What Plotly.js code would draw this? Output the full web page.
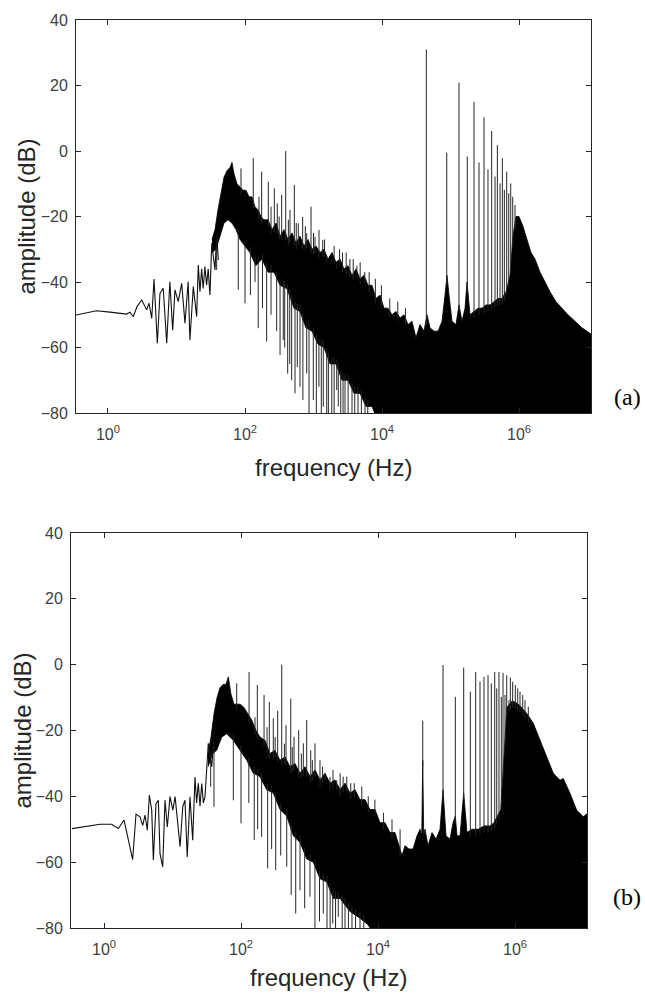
<!DOCTYPE html>
<html><head><meta charset="utf-8">
<script src="https://cdn.plot.ly/plotly-3.0.1.min.js"></script>
<style>html,body{margin:0;padding:0;background:#fff}#chart{width:645px;height:994px}</style>
</head><body><div id="chart"></div>
<script>
// ================= (a) =================
const aLowF  = [0.34, 0.48, 0.68, 1.07, 1.5, 1.87, 2.1, 2.34, 2.65, 3.1, 3.67, 3.97, 4.35, 4.7, 5.25, 5.74, 6.4, 7.2, 8.0, 8.8, 9.5, 10.6, 11.9, 13.3, 14.8, 15.7, 17.6, 19.7, 20.8, 22, 23.3, 24.5, 26, 27.5, 29, 30.8, 32.7, 36.5, 38.6, 40.8];
const aLowDb = [-50.1, -49.5, -48.8, -49.2, -49.6, -49.8, -49.2, -50.6, -47.5, -45.5, -48.5, -46.5, -51.1, -39.1, -58.7, -43.5, -41.9, -58.7, -39.9, -54.7, -42.4, -46, -40.4, -52.6, -39.9, -57.7, -41.4, -50.6, -34.8, -43, -36, -42, -35.3, -41, -36, -44, -28.2, -36.3, -25.1, -33.3];

const aUpperF  = [33.0, 36.5, 40.3, 44.7, 49.4, 54.6, 60.4, 64.6, 69.1, 76.4, 84.5, 93.5, 103.5, 114.4, 126.5, 140, 155, 171, 189, 217, 248, 284, 325, 371, 424, 485, 556, 635, 727, 831, 951, 1087, 1244, 1422, 1629, 1862, 2130, 2438, 2787, 3190, 3648, 4169, 4775, 5458, 6252, 7145, 8166, 9354, 10690, 12240, 14000, 16000, 18320, 20940, 23990, 27410, 31330, 35890, 41020, 45390, 50230, 57410, 65770, 75160, 83180, 88930, 95100, 105200, 120300, 133000, 147200, 162900, 174200, 192700, 220300, 251800, 288400, 329600, 377600, 431500, 493300, 564900, 645700, 739600, 817000, 903600, 1000000, 1143000, 1309000, 1496000, 1714000, 2027000, 2399000, 2838000, 3467000, 4246000, 5188000, 6577000, 8318000, 11430000];
const aUpperDb = [-27, -24, -18, -13, -8, -6, -5, -3.5, -7, -10, -11, -12, -12, -14, -14, -17, -18, -20, -21, -21, -24, -22, -26, -24, -27, -25, -28, -26, -29, -27, -30, -29, -31, -30, -33, -31, -34, -33, -36, -35, -38, -36, -39, -38, -41, -41, -45, -44, -48, -48, -50, -49, -51, -50, -53, -52, -57, -53, -55, -50, -54, -55, -55, -52, -44, -38, -44, -52, -53, -47, -52, -48, -40, -50, -49, -48, -48, -47, -47, -46, -45, -45, -43, -38, -26, -20, -20, -23, -27, -31, -33, -37, -40, -43, -46, -48, -50, -52, -54, -56];

const aLowerF  = [33.0, 37.7, 43.2, 49.4, 56.5, 64.6, 73.9, 84.5, 99.3, 118, 144, 177, 217, 265, 325, 409, 519, 635, 777, 951, 1163, 1422, 1740, 2130, 2606, 3190, 3903, 4775, 5843, 7145, 8166, 11430000];
const aLowerDb = [-31, -30, -26, -22, -21, -22, -24, -27, -29, -31, -35, -33, -37, -37, -41, -42, -48, -49, -54, -55, -59, -60, -65, -65, -70, -70, -74, -74, -78, -78, -81, -81];

const aSpikeF  = [87.4, 132, 175, 219, 268, 296, 343, 393, 454, 525, 600, 695, 796, 920, 1052, 1203, 1362, 1560, 1845, 2183, 2650, 3400, 4300, 5600, 160, 240, 315, 430, 560, 760, 1000, 1450, 2000, 2400, 3000, 3800, 4800, 6500, 8000, 9800, 13000, 17000, 22000, 44360, 88100, 133000, 175800, 220300, 260600, 308300, 352500, 399000, 446700, 483100, 528400, 571500, 611100, 661100, 707900, 756800, 809400, 875000];
const aSpikeDb = [-5.3, -2.2, -6.3, -9.4, -11.4, -16, -13.4, 0, -18, -10.4, -22.1, -20.1, -25.1, -17, -26.2, -24.1, -27.2, -32.3, -33.8, -34.3, -31, -33, -35, -37, -14, -17, -20, -21, -22, -23, -25, -27, -29, -30, -31, -33, -34, -37, -39, -41, -45, -46, -48, 31, -0.5, 20.9, -1.7, 15, -3.5, 10.3, -5.6, 6.1, -7.8, 1.8, -9.9, -2.2, -11.9, -6.3, -12.9, -9.9, -14, -16.5];

const aDipF  = [38.6, 79.8, 100, 120, 156, 207, 325, 362, 450, 537, 635, 796, 993, 1200, 1390, 1560, 1850, 2183, 2500, 2884, 3648, 4467, 5649, 140, 180, 240, 290, 380, 420, 480, 580, 700, 860, 1100, 1300, 1650, 2000, 2300, 2700, 3200, 4000, 5000, 6200];
const aDipDb = [-36.3, -42.4, -46.5, -44, -54.1, -58.2, -62.3, -57.7, -65, -74, -72, -67.9, -76, -72, -78.1, -80, -80, -73, -80, -80, -80, -80, -80, -40, -48, -50, -55, -60, -68, -70, -66, -76, -80, -80, -80, -80, -80, -78, -80, -80, -80, -80, -80];

// ================= (b) =================
const bLowF  = [0.34, 0.875, 1.29, 1.62, 1.96, 2.62, 2.93, 3.35, 3.67, 3.97, 4.29, 4.59, 4.97, 5.25, 5.74, 6.21, 6.57, 7.19, 7.77, 8.4, 9.2, 10.1, 10.9, 11.75, 12.9, 14.1, 15.2, 16.4, 18, 19.7, 21.3, 22.5, 23.8, 25.2, 26.7, 28.2, 29.8, 33.3, 37.4, 41.7];
const bLowDb = [-49.8, -48.5, -48.5, -49.8, -47.2, -59.2, -45.4, -46.2, -48.8, -45.7, -50.3, -39.6, -44.2, -59.4, -42.2, -41.2, -57.4, -61.4, -41.2, -49.3, -40.1, -44.2, -40.1, -47.2, -55.3, -43.2, -41.2, -58.4, -40.1, -53.3, -34.1, -42, -36, -43, -36.1, -42, -40.1, -23.9, -31, -16.8];

const bUpperF  = [33.0, 36.5, 40.3, 44.7, 49.4, 54.6, 60.4, 65.3, 71.4, 79, 87.4, 96.7, 110.6, 126.5, 144.8, 165.6, 189.4, 224, 265, 313, 371, 439, 519, 614, 727, 860, 1016, 1203, 1422, 1683, 1991, 2355, 2787, 3297, 3901, 4616, 5458, 6457, 7640, 9040, 10690, 12650, 14970, 17710, 20260, 22400, 24770, 28370, 32460, 37080, 41020, 43500, 44970, 46500, 48530, 53700, 61400, 70300, 80400, 88930, 98400, 112500, 124500, 134500, 142300, 157400, 178200, 199100, 235500, 288400, 352500, 431500, 493000, 620000, 690000, 760000, 904000, 1035000, 1183000, 1483000, 1849000, 2317000, 2904000, 3625000, 4538000, 5070000, 6353000, 7960000, 9930000, 11430000];
const bUpperDb = [-27, -22, -15, -10, -7, -6, -6, -3.7, -9, -12, -12, -12, -13, -15, -17, -20, -22, -23, -27, -26, -29, -28, -31, -30, -33, -31, -34, -32, -35, -33, -36, -35, -38, -36, -39, -38, -41, -41, -44, -44, -48, -48, -51, -51, -55, -58, -55, -56, -56, -52, -50, -52, -29, -52, -50, -55, -51, -53, -50, -38, -52, -53, -48, -46, -52, -52, -39, -51, -50, -50, -49, -49, -48, -44, -28, -13, -11, -11.5, -12.5, -14.8, -17.8, -22.9, -28, -33, -35.1, -34.6, -39.1, -44.2, -46.2, -45.2];

const bLowerF  = [33.0, 38.6, 44.2, 52.3, 61.8, 77.2, 96.7, 121, 151, 189, 237, 296, 371, 465, 580, 727, 910, 1137, 1422, 1783, 2228, 2787, 3901, 5458, 7145, 8166, 11430000];
const bLowerDb = [-31, -27, -26, -22, -21, -23, -26, -29, -33, -34, -38, -39, -44, -46, -52, -54, -59, -60, -65, -66, -71, -71, -75, -77, -79, -81, -81];

const bSpikeF  = [86.5, 131, 173, 217, 259, 296, 343, 393, 454, 532, 594, 695, 812, 910, 1042, 1203, 1422, 1683, 1991, 2495, 3100, 4000, 160, 240, 315, 430, 560, 760, 1100, 1550, 2200, 2800, 3500, 4500, 5800, 7200, 9000, 12000, 16000, 21000, 44970, 88930, 134500, 178200, 222700, 266700, 308300, 352500, 403600, 450800, 505800, 540800, 583400, 631000, 668300, 714500, 756800, 817000, 855000, 924700, 1011000, 1096000, 1183000, 1295000, 1400000, 1564000];
const bSpikeDb = [-5.7, -2.2, -6.2, -9.2, -11.3, -16.3, -14, 0, -18.4, -10.3, -21.9, -19.9, -23.9, -16.8, -26, -23.9, -29, -33, -34.1, -35.1, -34, -36, -16, -19, -22, -24, -25, -27, -29, -31, -32, -33, -34, -36, -37, -40, -41, -45, -47, -50, -17, -0.1, -9.8, -0.9, -8.2, -2.2, -5.2, -3.7, -3.2, -5.7, -2.2, -7.2, -2.2, -9.8, -2.5, -9.2, -3.2, -10.8, -3.9, -5.2, -6.2, -7.2, -8.2, -9.2, -10.8, -12.8];

const bDipF  = [36.1, 40.3, 77.2, 100, 156, 200, 245, 321, 465, 629, 727, 1016, 1589, 2183, 2630, 3297, 4169, 5458, 130, 175, 280, 380, 540, 850, 1200, 1400, 1800, 2000, 2400, 3000, 3700, 4700, 6200];
const bDipDb = [-37.1, -43.2, -41.2, -48.2, -53.3, -52.3, -61.9, -62.4, -61.4, -75.6, -68.5, -70.5, -75.6, -78.6, -76.6, -80, -80, -80, -42, -50, -56, -58, -70, -74, -80, -78, -80, -80, -80, -80, -80, -80, -80];

// ticks and texts
const xTickVals = [1, 100, 10000, 1000000];
const xTickText = ['10<sup>0</sup>', '10<sup>2</sup>', '10<sup>4</sup>', '10<sup>6</sup>'];
const yTickVals = [-80, -60, -40, -20, 0, 20, 40];
const panelLabels = ['(a)', '(b)'];
const xTitle = 'frequency (Hz)';
const yTitle = 'amplitude (dB)';

// ---------- helpers ----------
function envAt(F, D, f) {
  const x = Math.log10(f);
  if (x <= Math.log10(F[0])) return D[0];
  for (let i = 0; i < F.length - 1; i++) {
    const x0 = Math.log10(F[i]), x1 = Math.log10(F[i + 1]);
    if (x <= x1) { const t = (x - x0) / (x1 - x0); return D[i] + t * (D[i + 1] - D[i]); }
  }
  return D[D.length - 1];
}
const INK = '#000';
const HAIR = '#262626';
function panelTraces(lowF, lowDb, upF, upDb, loF, loDb, spF, spDb, dpF, dpDb, xa, ya) {
  const bandX = upF.concat(loF.slice().reverse());
  const bandY = upDb.concat(loDb.slice().reverse());
  const sx = [], sy = [];
  spF.forEach((f, i) => { sx.push(f, f, null); sy.push(envAt(upF, upDb, f) - 2, spDb[i], null); });
  const dx = [], dy = [];
  dpF.forEach((f, i) => { dx.push(f, f, null); dy.push(envAt(loF, loDb, f) + 2, dpDb[i], null); });
  const common = {xaxis: xa, yaxis: ya, hoverinfo: 'skip', showlegend: false};
  return [
    Object.assign({type: 'scatter', mode: 'lines', x: bandX, y: bandY, fill: 'toself', fillcolor: INK, line: {color: INK, width: 0.8}}, common),
    Object.assign({type: 'scatter', mode: 'lines', x: sx, y: sy, line: {color: HAIR, width: 1}}, common),
    Object.assign({type: 'scatter', mode: 'lines', x: dx, y: dy, line: {color: HAIR, width: 1}}, common),
    Object.assign({type: 'scatter', mode: 'lines', x: lowF, y: lowDb, line: {color: '#111', width: 1.1}}, common)
  ];
}

const data = [].concat(
  panelTraces(aLowF, aLowDb, aUpperF, aUpperDb, aLowerF, aLowerDb, aSpikeF, aSpikeDb, aDipF, aDipDb, 'x', 'y'),
  panelTraces(bLowF, bLowDb, bUpperF, bUpperDb, bLowerF, bLowerDb, bSpikeF, bSpikeDb, bDipF, bDipDb, 'x2', 'y2')
);

const W = 645, H = 994;
const axCol = '#262626';
const tickFont = {family: 'Liberation Sans, Arial, sans-serif', size: 16, color: '#404040'};
function xAx(domain, range, anchor) {
  return {type: 'log', domain: domain, range: range, anchor: anchor, tickmode: 'array', tickvals: xTickVals, ticktext: xTickText,
    ticks: 'inside', ticklen: 5, tickcolor: axCol, showline: true, linecolor: axCol, linewidth: 1, mirror: 'ticks',
    showgrid: false, zeroline: false, tickfont: tickFont, ticklabelstandoff: 7};
}
function yAx(domain, anchor) {
  return {domain: domain, range: [-80, 40], anchor: anchor, tickmode: 'array', tickvals: yTickVals,
    ticks: 'inside', ticklen: 5, tickcolor: axCol, showline: true, linecolor: axCol, linewidth: 1, mirror: 'ticks',
    showgrid: false, zeroline: false, tickfont: tickFont, ticklabelstandoff: 4};
}
const titleFont = {family: 'Liberation Sans, Arial, sans-serif', size: 24, color: '#262626'};
const serifFont = {family: 'Liberation Serif, Times New Roman, serif', size: 24, color: '#000'};
function ann(text, px, py, font, angle) {
  return {text: text, xref: 'paper', yref: 'paper', x: px / W, y: 1 - py / H, xanchor: 'center', yanchor: 'middle',
    showarrow: false, font: font, textangle: angle || 0};
}
const layout = {
  width: W, height: H, margin: {l: 0, r: 0, t: 0, b: 0},
  paper_bgcolor: '#fff', plot_bgcolor: '#fff', showlegend: false,
  xaxis: xAx([76 / W, 591 / W], [-0.467, 7.051], 'y'),
  yaxis: yAx([1 - 413 / H, 1 - 20 / H], 'x'),
  xaxis2: xAx([71 / W, 587 / W], [-0.482, 7.051], 'y2'),
  yaxis2: yAx([1 - 928 / H, 1 - 533 / H], 'x2'),
  annotations: [
    ann(yTitle, 26, 216.5, titleFont, -90),
    ann(yTitle, 22, 730.5, titleFont, -90),
    ann(xTitle, 333.5, 467, titleFont),
    ann(xTitle, 329, 977, titleFont),
    ann(panelLabels[0], 627, 397, serifFont),
    ann(panelLabels[1], 627, 897, serifFont)
  ]
};
Plotly.newPlot('chart', data, layout, {staticPlot: true, displayModeBar: false});
</script>
</body></html>
